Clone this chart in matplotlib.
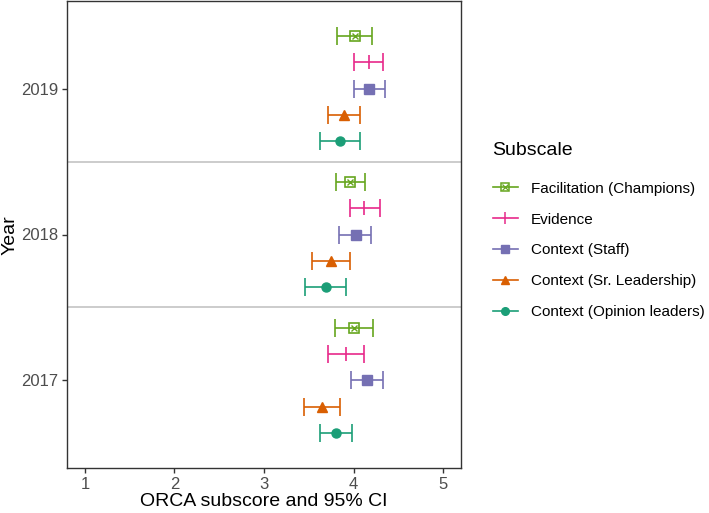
import matplotlib
matplotlib.use('Agg')
import matplotlib.pyplot as plt
from matplotlib.lines import Line2D
import numpy as np

plt.rcParams['font.family'] = ['Liberation Sans', 'DejaVu Sans']

# data
years = [2017, 2018, 2019]
subscales = ['Context (Opinion leaders)', 'Context (Sr. Leadership)', 'Context (Staff)',
             'Evidence', 'Facilitation (Champions)']

est_opinion = [3.80, 3.69, 3.85]
lo_opinion = [3.62, 3.46, 3.63]
hi_opinion = [3.98, 3.92, 4.07]

est_leader = [3.65, 3.75, 3.89]
lo_leader = [3.45, 3.54, 3.71]
hi_leader = [3.85, 3.96, 4.07]

est_staff = [4.15, 4.03, 4.17]
lo_staff = [3.97, 3.84, 4.00]
hi_staff = [4.33, 4.20, 4.35]

est_evidence = [3.92, 4.12, 4.17]
lo_evidence = [3.72, 3.96, 4.01]
hi_evidence = [4.12, 4.29, 4.33]

est_facil = [4.00, 3.96, 4.02]
lo_facil = [3.79, 3.80, 3.82]
hi_facil = [4.22, 4.13, 4.21]

ests = [est_opinion, est_leader, est_staff, est_evidence, est_facil]
los = [lo_opinion, lo_leader, lo_staff, lo_evidence, lo_facil]
his = [hi_opinion, hi_leader, hi_staff, hi_evidence, hi_facil]

colors = ['#1B9E77', '#D95F02', '#7570B3', '#E7298A', '#66A61E']
markers = ['o', '^', 's', '|', 's']

fig = plt.figure(figsize=(7.09, 5.13), dpi=100)
ax = fig.add_axes([67/709, 45/513, 394/709, 467/513])

ypos = np.arange(len(years))
offsets = [-0.36, -0.18, 0.0, 0.18, 0.36]

for i in range(5):
    y = ypos + offsets[i]
    e = np.array(ests[i])
    xerr = [e - np.array(los[i]), np.array(his[i]) - e]
    ax.errorbar(e, y, xerr=xerr, fmt='none', ecolor=colors[i], elinewidth=1.2,
                capsize=6.5, capthick=1.2, zorder=2)
    if i == 4:
        ax.plot(e, y, 's', ms=6.5, mfc='none', mec=colors[i], mew=1.2, ls='none', zorder=3)
        ax.plot(e, y, 'x', ms=4.5, mec=colors[i], mew=1.0, ls='none', zorder=3)
    elif i == 3:
        ax.plot(e, y, '|', ms=10, mec=colors[i], mew=1.2, ls='none', zorder=3)
    else:
        ax.plot(e, y, markers[i], ms=6.5, color=colors[i], ls='none', zorder=3)

for s in [0.5, 1.5]:
    ax.axhline(s, color='#BEBEBE', lw=1.1, zorder=1)

ax.set_xlim(0.8, 5.2)
ax.set_ylim(-0.6, 2.6)
ax.set_xticks([1, 2, 3, 4, 5])
ax.set_yticks(ypos)
ax.set_yticklabels([str(y) for y in years])
ax.tick_params(colors='#333333', labelcolor='#4D4D4D', labelsize=12, length=3.5, width=1, pad=3)
for sp in ax.spines.values():
    sp.set_color('#333333')
    sp.set_linewidth(1)
ax.set_xlabel('ORCA subscore and 95% CI', fontsize=14, color='black', labelpad=1)
fig.text(10/709, 1 - 235/513, 'Year', fontsize=14, rotation=90, ha='center', va='center')

# legend, top entry first
handles = [
    (Line2D([], [], color=colors[4], lw=1.2, marker='s', ms=5.5, mfc='none', mec=colors[4], mew=1.1),
     Line2D([], [], color=colors[4], lw=0, marker='x', ms=3.8, mew=0.9)),
    Line2D([], [], color=colors[3], lw=1.2, marker='|', ms=9, mew=1.1),
    Line2D([], [], color=colors[2], lw=1.2, marker='s', ms=5.5),
    Line2D([], [], color=colors[1], lw=1.2, marker='^', ms=5.5),
    Line2D([], [], color=colors[0], lw=1.2, marker='o', ms=5.5),
]
labels = subscales[::-1]
fig.text(492/709, 1 - 151/513, 'Subscale', fontsize=14, ha='left', va='center')
fig.legend(handles, labels, loc='upper left', bbox_to_anchor=(479/709, 1 - 168/513),
           frameon=False, fontsize=11, handlelength=1.63, handletextpad=0.85,
           labelspacing=1.1, borderpad=0.4)

fig.savefig('out.png', dpi=100)
